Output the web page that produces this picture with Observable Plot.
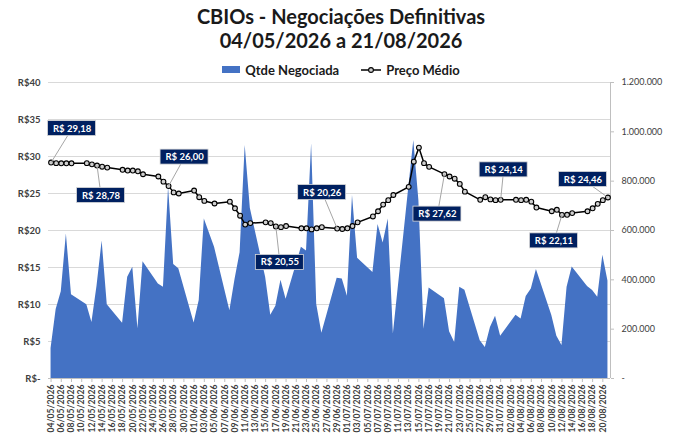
<!DOCTYPE html>
<html>
<head>
<meta charset="utf-8">
<script src="https://cdn.jsdelivr.net/npm/d3@7"></script>
<script src="https://cdn.jsdelivr.net/npm/@observablehq/plot@0.6"></script>
<style>
  body { margin: 0; background: #fff; font-family: Lato, sans-serif; }
  #wrap { width: 682px; height: 438px; overflow: hidden; background: #fff; }
  .title { height: 60px; padding-top: 4px; box-sizing: border-box; text-align: center;
           font-weight: bold; font-size: 20px; line-height: 24px; color: #1a1a1a; }
  .legend { height: 19px; display: flex; justify-content: center; align-items: center;
            font-weight: bold; font-size: 13px; color: #1a1a1a; }
  .legend .sw { display: inline-block; width: 18px; height: 7px; background: #4472C4; margin-right: 5px; }
  .legend .gap { display: inline-block; width: 22px; }
  .legend svg { margin-right: 5px; }
  #chart svg { display: block; }
</style>
</head>
<body>
<div id="wrap">
  <div class="title">CBIOs - Negociações Definitivas<br>04/05/2026 a 21/08/2026</div>
  <div class="legend">
    <span class="sw"></span><span>Qtde Negociada</span><span class="gap"></span>
    <svg width="20" height="8"><line x1="0" y1="4" x2="20" y2="4" stroke="#000" stroke-width="1.5"/><circle cx="10" cy="4" r="2.4" fill="#d0d0d0" stroke="#000" stroke-width="1.1"/></svg><span>Preço Médio</span>
  </div>
  <div id="chart"></div>
</div>
<script>
// ---- data ----
const dates = [
  "2026-05-04","2026-05-05","2026-05-06","2026-05-07","2026-05-08",
  "2026-05-11","2026-05-12","2026-05-13","2026-05-14","2026-05-15",
  "2026-05-18","2026-05-19","2026-05-20","2026-05-21","2026-05-22",
  "2026-05-25","2026-05-26","2026-05-27","2026-05-28","2026-05-29",
  "2026-06-01","2026-06-02","2026-06-03","2026-06-05",
  "2026-06-08","2026-06-09","2026-06-10","2026-06-11","2026-06-12",
  "2026-06-15","2026-06-16","2026-06-17","2026-06-18","2026-06-19",
  "2026-06-22","2026-06-23","2026-06-24","2026-06-25","2026-06-26",
  "2026-06-29","2026-06-30","2026-07-01","2026-07-02","2026-07-03",
  "2026-07-06","2026-07-07","2026-07-08","2026-07-09","2026-07-10",
  "2026-07-13","2026-07-14","2026-07-15","2026-07-16","2026-07-17",
  "2026-07-20","2026-07-21","2026-07-22","2026-07-23","2026-07-24",
  "2026-07-27","2026-07-28","2026-07-29","2026-07-30","2026-07-31",
  "2026-08-03","2026-08-04","2026-08-05","2026-08-06","2026-08-07",
  "2026-08-10","2026-08-11","2026-08-12","2026-08-13","2026-08-14",
  "2026-08-17","2026-08-18","2026-08-19","2026-08-20","2026-08-21"
];
const qtdeNegociada = [
  122000, 280000, 352000, 586000, 340000,
  299000, 227000, 375000, 557000, 299000,
  224000, 410000, 451000, 202000, 473000,
  383000, 370000, 775000, 462000, 445000,
  225000, 316000, 647000, 532000,
  275000, 400000, 510000, 945000, 690000,
  410000, 256000, 293000, 398000, 321000,
  532000, 517000, 952000, 300000, 183000,
  406000, 403000, 333000, 742000, 487000,
  430000, 624000, 549000, 647000, 180000,
  770000, 965000, 720000, 200000, 367000,
  323000, 190000, 146000, 370000, 358000,
  153000, 126000, 207000, 252000, 171000,
  256000, 241000, 332000, 363000, 442000,
  256000, 171000, 134000, 370000, 452000,
  373000, 357000, 329000, 500000, 395000
];
const precoMedio = [
  29.18, 29.10, 29.08, 29.08, 29.08,
  29.10, 28.94, 28.78, 28.62, 28.50,
  28.20, 28.10, 28.10, 28.00, 27.60,
  27.30, 26.60, 26.00, 25.15, 25.00,
  25.40, 24.50, 24.00, 23.65,
  23.90, 23.00, 22.00, 20.80, 21.00,
  21.10, 21.00, 20.55, 20.45, 20.60,
  20.30, 20.30, 20.15, 20.30, 20.45,
  20.26, 20.20, 20.30, 20.60, 21.10,
  21.90, 22.60, 23.50, 24.10, 24.80,
  25.90, 29.30, 31.20, 29.10, 28.60,
  27.62, 27.30, 27.00, 26.30, 25.25,
  24.15, 24.50, 24.20, 24.10, 24.14,
  24.15, 24.10, 24.15, 23.90, 23.10,
  22.60, 22.80, 22.11, 22.12, 22.35,
  22.60, 23.00, 23.60, 24.10, 24.46
];
const labelDates = ["2026-05-04","2026-05-13","2026-05-27","2026-06-17","2026-06-29",
                    "2026-07-20","2026-07-31","2026-08-12","2026-08-21"];
const priceTicks = [0, 5, 10, 15, 20, 25, 30, 35, 40];
const qtdeMax = 1200000;
const qtdeTicks = [0, 200000, 400000, 600000, 800000, 1000000, 1200000];

// ---- layout (pixel offsets of each data label from its point) ----
const labelOffsets = [[21,-34],[4,30],[16,-29],[4,36],[-15,-36],[-7,40],[3,-30],[-8,26],[-25,-18]];
const W = 682, H = 359, mT = 3, mB = 60, mL = 48, mR = 72;

const parse = s => new Date(s + "T00:00:00Z");
const data = dates.map((d, i) => ({date: parse(d), q: qtdeNegociada[i], p: precoMedio[i]}));
const K = 40 / qtdeMax;
const xDom = [new Date(Date.UTC(2026,4,3,12)), new Date(Date.UTC(2026,7,21,12))];
const pxPerMs = (W - mL - mR) / (xDom[1] - xDom[0]);
const pxPerR = (H - mT - mB) / 40;

const labels = labelDates.map((ds, k) => {
  const d = data[dates.indexOf(ds)];
  const [dx, dy] = labelOffsets[k];
  return {date: d.date, p: d.p,
          lx: new Date(+d.date + dx / pxPerMs), ly: d.p - dy / pxPerR,
          text: "R$ " + d.p.toFixed(2).replace(".", ",")};
});

const loc = d3.formatLocale({decimal: ",", thousands: ".", grouping: [3], currency: ["R$", ""]});
const fmtQ = loc.format(",d");
const start = parse(dates[0]);
const xTicks = d3.range(0, 109, 2).map(i => new Date(+start + i * 864e5));

const chart = Plot.plot({
  width: W, height: H, marginTop: mT, marginBottom: mB, marginLeft: mL, marginRight: mR,
  style: {fontFamily: "Lato, sans-serif", color: "#404040", background: "#fff", overflow: "visible"},
  x: {type: "utc", domain: xDom},
  y: {domain: [0, 40]},
  marks: [
    Plot.gridY(priceTicks, {stroke: "#d9d9d9", strokeOpacity: 1}),
    Plot.areaY(data, {x: "date", y: d => d.q * K, fill: "#4472C4"}),
    Plot.ruleY([0], {stroke: "#bfbfbf"}),
    Plot.ruleX([xDom[1]], {stroke: "#bfbfbf"}),
    Plot.axisY(priceTicks, {anchor: "left", tickSize: 0, tickPadding: 8, fontSize: 9.5, fontWeight: "bold",
      tickFormat: d => d === 0 ? "R$-" : "R$" + d}),
    Plot.axisY(qtdeTicks.map(q => q * K), {anchor: "right", tickSize: 3, tickPadding: 8, stroke: "#bfbfbf",
      fontSize: 9, tickFormat: d => { const q = Math.round(d / K); return q === 0 ? "-" : fmtQ(q); }}),
    Plot.axisX(xTicks, {anchor: "bottom", tickRotate: -90, tickSize: 4, tickPadding: 2, stroke: "#bfbfbf",
      fontSize: 8.6, fontWeight: "bold", tickFormat: d3.utcFormat("%d/%m/%Y")}),
    Plot.line(data, {x: "date", y: "p", stroke: "#000", strokeWidth: 1.5}),
    Plot.dot(data, {x: "date", y: "p", r: 2.4, fill: "#d0d0d0", stroke: "#000", strokeWidth: 1.1}),
    Plot.link(labels, {x1: "date", y1: "p", x2: "lx", y2: "ly", stroke: "#a6a6a6", strokeWidth: 1}),
    Plot.rect(labels, {x1: "lx", x2: "lx", y1: "ly", y2: "ly",
      insetLeft: -24, insetRight: -24, insetTop: -7.5, insetBottom: -7.5,
      fill: "#002060", stroke: "#d9d9d9", strokeWidth: 0.8}),
    Plot.text(labels, {x: "lx", y: "ly", text: "text", fill: "#fff", fontWeight: "bold", fontSize: 9.5})
  ]
});
document.getElementById("chart").appendChild(chart);
</script>
</body>
</html>
